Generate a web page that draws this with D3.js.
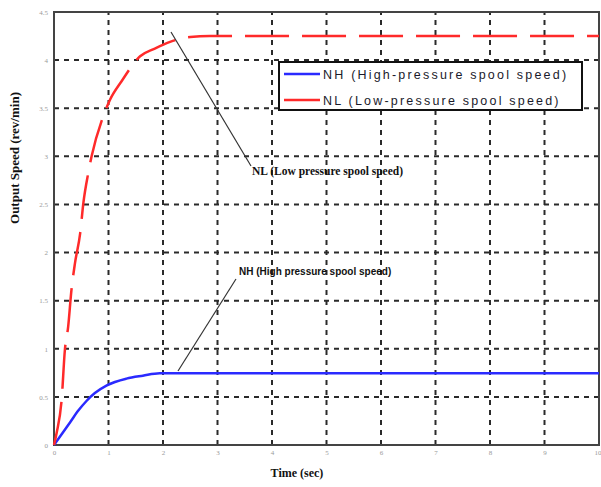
<!DOCTYPE html>
<html>
<head>
<meta charset="utf-8">
<script src="https://cdn.jsdelivr.net/npm/d3@7"></script>
<style>
  html, body { margin: 0; padding: 0; background: #fff; }
  svg { display: block; }
</style>
</head>
<body>
<svg id="chart" width="601" height="487"></svg>
<script>
// Spool speed response samples: [time (sec), speed (rev/min)]
const nlSeries = [
  [0, 0], [0.05, 0.13], [0.14, 0.47], [0.2, 0.99], [0.26, 1.23], [0.32, 1.61],
  [0.385, 1.89], [0.48, 2.2], [0.54, 2.52], [0.63, 2.83], [0.69, 3.0],
  [0.9, 3.41], [1.03, 3.59], [1.24, 3.78], [1.58, 4.04], [1.85, 4.12],
  [2.13, 4.19], [2.5, 4.24], [2.86, 4.25], [4, 4.25], [6, 4.25], [8, 4.25], [10, 4.25]
];
const nhSeries = [
  [0, 0], [0.15, 0.12], [0.3, 0.24], [0.45, 0.36], [0.6, 0.46], [0.75, 0.54],
  [0.97, 0.62], [1.33, 0.69], [1.63, 0.72], [1.94, 0.745],
  [3, 0.745], [5, 0.745], [7, 0.745], [10, 0.745]
];
const xTicks = [0, 1, 2, 3, 4, 5, 6, 7, 8, 9, 10];
const yTicks = [0, 0.5, 1, 1.5, 2, 2.5, 3, 3.5, 4, 4.5];
const legendLabels = ["NH (High-pressure spool speed)", "NL (Low-pressure spool speed)"];
const seriesColors = ["#2a2aff", "#ff2a2a"];

const svg = d3.select("#chart");
const plotLeft = 54, plotRight = 599, plotTop = 12, plotBottom = 445;

const x = d3.scaleLinear().domain([0, 10]).range([plotLeft, plotRight]);
const y = d3.scaleLinear().domain([0, 4.5]).range([plotBottom, plotTop]);

// dashed grid
const grid = svg.append("g").attr("stroke", "#2a2a2a").attr("stroke-width", 2)
  .attr("stroke-dasharray", "5,5");
grid.selectAll("line.v").data(xTicks.slice(1, -1)).join("line").attr("class", "v")
  .attr("x1", d => x(d)).attr("x2", d => x(d)).attr("y1", plotBottom).attr("y2", plotTop);
grid.selectAll("line.h").data(yTicks.slice(1, -1)).join("line").attr("class", "h")
  .attr("x1", plotLeft).attr("x2", plotRight).attr("y1", d => y(d)).attr("y2", d => y(d));

// axes with faint tick labels
const xAxis = d3.axisBottom(x).tickValues(xTicks).tickSize(0).tickPadding(5);
const yAxis = d3.axisLeft(y).tickValues(yTicks).tickSize(0).tickPadding(6)
  .tickFormat(d3.format("~g"));
const gx = svg.append("g").attr("transform", `translate(0,${plotBottom})`).call(xAxis);
const gy = svg.append("g").attr("transform", `translate(${plotLeft},0)`).call(yAxis);
[gx, gy].forEach(g => {
  g.select(".domain").remove();
  g.selectAll("text").attr("fill", "#9a9a9a").attr("font-size", 7)
    .attr("font-family", "Liberation Serif, serif");
});
// last x label sits at the window edge, so align it to its right end
gx.selectAll(".tick text").filter(d => d === xTicks[xTicks.length - 1])
  .attr("text-anchor", "end").attr("dx", 2);

// frame
svg.append("rect").attr("x", plotLeft).attr("y", plotTop)
  .attr("width", plotRight - plotLeft).attr("height", plotBottom - plotTop)
  .attr("fill", "none").attr("stroke", "#444").attr("stroke-width", 2);

const line = d3.line().x(d => x(d[0])).y(d => y(d[1])).curve(d3.curveMonotoneX);

svg.append("path").datum(nhSeries).attr("d", line)
  .attr("fill", "none").attr("stroke", seriesColors[0]).attr("stroke-width", 2.5);
svg.append("path").datum(nlSeries).attr("d", line)
  .attr("fill", "none").attr("stroke", seriesColors[1]).attr("stroke-width", 2.5)
  .attr("stroke-dasharray", "44,13");

// legend
const lg = svg.append("g");
lg.append("rect").attr("x", 279).attr("y", 62).attr("width", 303).attr("height", 48)
  .attr("fill", "#fff").attr("stroke", "#111").attr("stroke-width", 2);
legendLabels.forEach((t, i) => {
  const yy = 74 + i * 26;
  lg.append("line").attr("x1", 284).attr("x2", 320).attr("y1", yy).attr("y2", yy)
    .attr("stroke", seriesColors[i]).attr("stroke-width", 2.5);
  lg.append("text").attr("x", 323).attr("y", yy + 4.5).text(t)
    .attr("font-family", "Liberation Sans, Arial, sans-serif").attr("font-size", 12.5)
    .attr("letter-spacing", 2.2).attr("fill", "#1a1a2a");
});

// annotations
svg.append("line").attr("x1", 171).attr("y1", 32).attr("x2", 251).attr("y2", 166)
  .attr("stroke", "#333").attr("stroke-width", 1.2);
svg.append("text").attr("x", 252).attr("y", 175).text("NL (Low pressure spool speed)")
  .attr("font-family", "Liberation Serif, serif").attr("font-weight", "bold")
  .attr("font-size", 11.5).attr("fill", "#111");
svg.append("line").attr("x1", 236).attr("y1", 279).attr("x2", 178).attr("y2", 371)
  .attr("stroke", "#333").attr("stroke-width", 1.2);
svg.append("text").attr("x", 239).attr("y", 275).text("NH (High pressure spool speed)")
  .attr("font-family", "Liberation Sans, Arial, sans-serif").attr("font-weight", "bold")
  .attr("font-size", 10).attr("fill", "#111");

// axis titles
svg.append("text").attr("x", 297).attr("y", 477).attr("text-anchor", "middle")
  .text("Time (sec)").attr("font-family", "Liberation Serif, serif")
  .attr("font-weight", "bold").attr("font-size", 12).attr("fill", "#111");
svg.append("text").attr("transform", "translate(19,158) rotate(-90)")
  .attr("text-anchor", "middle").text("Output Speed (rev/min)")
  .attr("font-family", "Liberation Serif, serif").attr("font-weight", "bold")
  .attr("font-size", 13).attr("fill", "#111");
</script>
</body>
</html>
